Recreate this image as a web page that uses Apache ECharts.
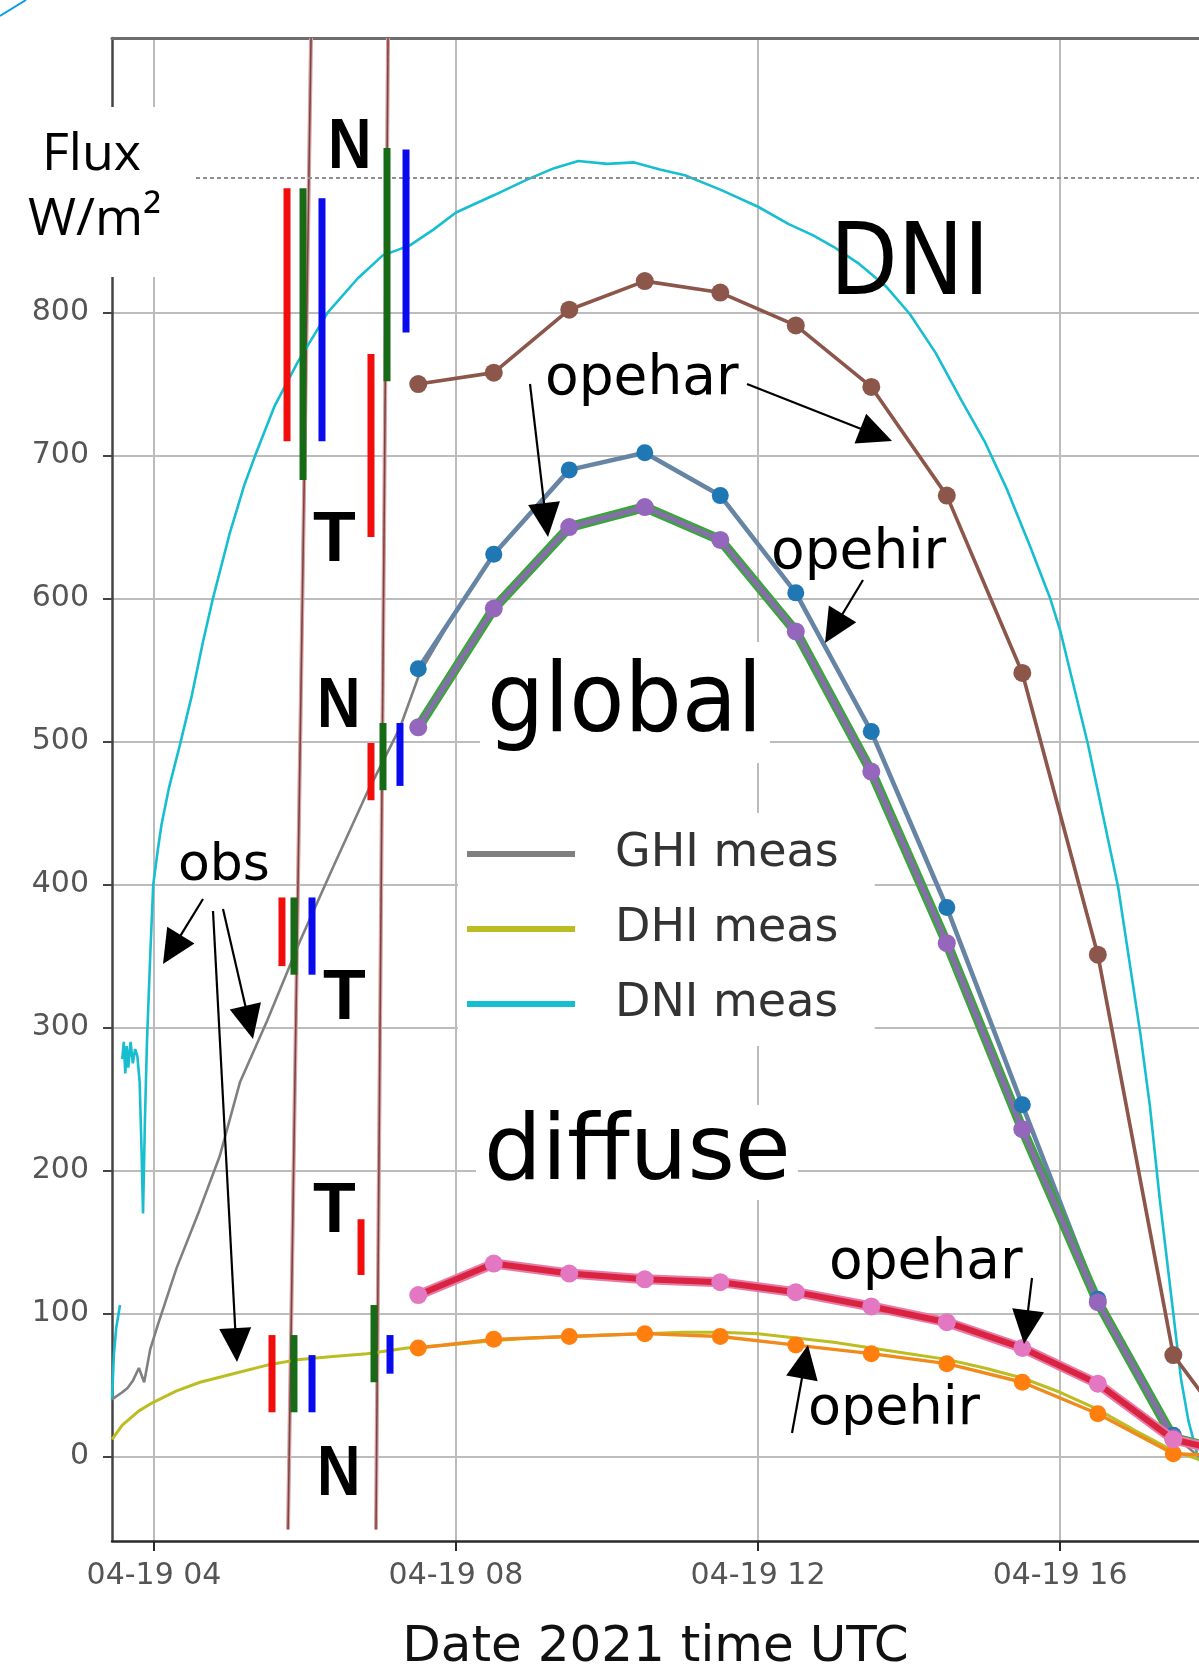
<!DOCTYPE html>
<html>
<head>
<meta charset="utf-8">
<script src="https://cdn.jsdelivr.net/npm/echarts@6/dist/echarts.min.js"></script>
<style>
html,body{margin:0;padding:0;background:#fff;}
#c{width:1199px;height:1678px;}
</style>
</head>
<body>
<div id="c"></div>
<script>
// ---------------- data ----------------
const xTickHours = [4, 8, 12, 16];
const yTickValues = [0, 100, 200, 300, 400, 500, 600, 700, 800];
const dottedRefValue = 894;

const modelHours = [7.5, 8.5, 9.5, 10.5, 11.5, 12.5, 13.5, 14.5, 15.5, 16.5, 17.5, 18.5];
const dniOpehar = [750, 758, 802, 822, 814, 791, 748, 672, 548, 351, 71, 0];
const ghiOpehar = [551, 631, 690, 702, 672, 604, 507, 384, 246, 110, 15, 0];
const ghiOpehir = [510, 593, 650, 664, 641, 577, 479, 359, 229, 108, 13, 0];
const dhiOpehar = [113, 135, 128, 124, 122, 115, 105, 94, 76, 51, 12, 0];
const dhiOpehir = [76, 82, 84, 86, 84, 78, 72, 65, 52, 30, 2, 0];

const dniMeas = [
  [3.444, 40], [3.47, 72], [3.50, 90], [3.55, 106], [3.56, null], [3.58, 278], [3.60, 290], [3.62, 268],
  [3.64, 287], [3.66, 272], [3.69, 290], [3.72, 275], [3.75, 285], [3.78, 280], [3.81, 262], [3.835, 215],
  [3.855, 170], [3.88, 235], [3.907, 290], [3.95, 350], [3.99, 400], [4.05, 424], [4.1, 442], [4.2, 468],
  [4.34, 497], [4.5, 532], [4.65, 570], [4.78, 600], [5.0, 645], [5.2, 680], [5.34, 700], [5.6, 735],
  [5.9, 765], [6.3, 800], [6.7, 824], [7.03, 840], [7.39, 847], [7.7, 858], [8.0, 870], [8.5, 882],
  [8.94, 893], [9.3, 901], [9.62, 906], [10.0, 904], [10.36, 905], [10.7, 900], [11.03, 896], [11.5, 886],
  [12.0, 874], [12.4, 862], [12.73, 854], [13.0, 846], [13.34, 834], [13.7, 818], [14.01, 799], [14.35, 772],
  [14.69, 739], [15.0, 710], [15.3, 676], [15.6, 637], [15.87, 600], [16.0, 578], [16.37, 498], [16.77, 398],
  [17.06, 297], [17.19, 245], [17.32, 180], [17.5, 100], [17.6, 55], [17.7, 25], [17.84, -3]
];
const ghiMeas = [
  [3.444, 40], [3.58, 45], [3.65, 48], [3.72, 53], [3.80, 62], [3.87, 52], [3.95, 75], [4.05, 92],
  [4.3, 132], [4.6, 172], [4.87, 210], [5.14, 262], [5.5, 305], [5.93, 360], [6.37, 412], [6.82, 464],
  [7.26, 510], [7.52, 548], [8.0, 591], [8.5, 631], [9.0, 661], [9.5, 690], [10.0, 696], [10.5, 702],
  [11.0, 687], [11.5, 672], [12.0, 638], [12.5, 604], [13.0, 555], [13.5, 507], [14.0, 445], [14.5, 384],
  [15.0, 315], [15.5, 246], [16.0, 178], [16.5, 110], [17.0, 62], [17.5, 15], [17.84, 0]
];
const dhiMeas = [
  [3.444, 12], [3.58, 22], [3.8, 32], [3.99, 38], [4.3, 46], [4.61, 52], [5.05, 58], [5.5, 64],
  [5.93, 68], [6.37, 70], [6.82, 72], [7.35, 76], [7.9, 78], [8.5, 81], [9.0, 83], [9.5, 84],
  [10.0, 85], [10.5, 86], [11.0, 87], [11.5, 87], [12.0, 86], [12.5, 83], [13.0, 80], [13.5, 76],
  [14.0, 72], [14.5, 68], [15.0, 62], [15.5, 55], [16.0, 45], [16.5, 33], [17.0, 18], [17.5, 4], [17.84, -2]
];

// time-marker lines: [hour at top, hour at bottom]
const markerLineHours = [[6.08, 5.775], [7.10, 6.94]];
const markerLineValues = [992, -51];

// range bars: [hour, low, high]
const rangeRed = [[5.762, 710, 887], [6.874, 643, 771], [6.874, 459, 499], [5.695, 343, 391], [5.563, 31, 85], [6.742, 127, 166]];
const rangeGreen = [[5.974, 683, 887], [7.086, 752, 915], [7.033, 466, 513], [5.854, 337, 391], [5.854, 31, 85], [6.914, 52, 106]];
const rangeBlue = [[6.225, 710, 880], [7.338, 786, 914], [7.258, 469, 513], [6.093, 337, 391], [6.093, 31, 71], [7.126, 58, 85]];

// ---------------- helpers ----------------
const pairs = (xs, ys) => xs.map((x, i) => [x, ys[i]]);
const pad2 = v => String(v).padStart(2, '0');
const DV = '"DejaVu Sans", sans-serif';

function rangeSeries(name, data, color) {
  return {
    type: 'custom', name, data, z: 20, silent: true,
    encode: { x: 0, y: [1, 2] },
    renderItem(params, api) {
      const a = api.coord([api.value(0), api.value(1)]);
      const b = api.coord([api.value(0), api.value(2)]);
      return { type: 'line', shape: { x1: a[0], y1: a[1], x2: b[0], y2: b[1] },
               style: { stroke: color, lineWidth: 7 } };
    }
  };
}

function arrow(x1, y1, x2, y2) {
  const dx = x2 - x1, dy = y2 - y1, L = Math.hypot(dx, dy), ux = dx / L, uy = dy / L;
  const hl = 34, hw = 16;
  const bx = x2 - ux * hl, by = y2 - uy * hl;
  return [
    { type: 'line', z: 102, shape: { x1, y1, x2: bx + ux * 3, y2: by + uy * 3 }, style: { stroke: '#000', lineWidth: 2.2 } },
    { type: 'polygon', z: 102, shape: { points: [[x2, y2], [bx - uy * hw, by + ux * hw], [bx + uy * hw, by - ux * hw]] }, style: { fill: '#000' } }
  ];
}

function txt(text, x, y, font, scaleX) {
  return { type: 'text', x, y, z: 101, scaleX: scaleX || 1, silent: true,
    style: { text, font, fill: '#000', textAlign: 'left', textVerticalAlign: 'middle', verticalAlign: 'middle' } };
}

const bigN = 'bold 70px "Liberation Sans", Arial, sans-serif';

const graphics = [
  { type: 'line', z: 102, shape: { x1: 0, y1: 16, x2: 26, y2: 0 }, style: { stroke: '#0a9fe6', lineWidth: 2 } },
  { type: 'rect', z: 100, shape: { x: 0, y: 107, width: 195, height: 170 }, style: { fill: '#fff' } },
  { type: 'rect', z: 100, shape: { x: 480, y: 642, width: 290, height: 121 }, style: { fill: '#fff' } },
  { type: 'rect', z: 100, shape: { x: 476, y: 1105, width: 322, height: 95 }, style: { fill: '#fff' } },
  txt('Flux', 42, 155, '52px "Open Sans", sans-serif'),
  txt('W/m²', 28, 220, '52px "Open Sans", sans-serif'),
  txt('N', 328, 149, bigN, 0.86),
  txt('T', 313, 542, bigN),
  txt('N', 317, 708, bigN, 0.86),
  txt('T', 323, 1000, bigN),
  txt('T', 313, 1213, bigN),
  txt('N', 317, 1476, bigN, 0.86),
  txt('DNI', 830, 268, '100px ' + DV, 0.88),
  txt('global', 487, 706, '96px ' + DV, 0.94),
  txt('diffuse', 484, 1155, '91px ' + DV),
  txt('opehar', 545, 380, '55px ' + DV),
  txt('opehir', 771, 554, '55px ' + DV),
  txt('opehar', 829, 1264, '55px ' + DV),
  txt('opehir', 808, 1410, '54px ' + DV),
  txt('obs', 178, 866, '52px ' + DV),
  ...arrow(747, 384, 892, 441),
  ...arrow(530, 384, 548, 537),
  ...arrow(863, 580, 825, 643),
  ...arrow(1032, 1278, 1024, 1344),
  ...arrow(792, 1433, 808, 1345),
  ...arrow(203, 899, 163, 964),
  ...arrow(223, 909, 253, 1039),
  ...arrow(213, 911, 237, 1362)
];

const chart = echarts.init(document.getElementById('c'), null, { renderer: 'canvas' });
const xMin = 3.444, xMax = 17.84;

chart.setOption({
  animation: false,
  backgroundColor: '#fff',
  grid: { left: 112, right: 0, top: 38, bottom: 137, containLabel: false },
  legend: {
    data: ['GHI meas', 'DHI meas', 'DNI meas'],
    orient: 'vertical', left: 458, top: 813,
    backgroundColor: '#fff', padding: [18, 36, 19, 9], itemGap: 29,
    itemWidth: 108, itemHeight: 6, icon: 'rect', selectedMode: false,
    textStyle: { fontSize: 46, fontFamily: 'DejaVu Sans', color: '#333', padding: [0, 0, 0, 35] }
  },
  xAxis: [{
    type: 'value', min: xMin, max: xMax, minInterval: 4, maxInterval: 4,
    name: 'Date 2021 time UTC', nameLocation: 'middle', nameGap: 82,
    nameTextStyle: { fontSize: 50, fontFamily: 'DejaVu Sans', color: '#111' },
    axisLine: { onZero: false, lineStyle: { color: '#2a2a2a', width: 2.5 } },
    axisTick: { show: true, length: 10, customValues: xTickHours, lineStyle: { color: '#2a2a2a', width: 2 } },
    axisLabel: { customValues: xTickHours, fontSize: 30, fontFamily: 'DejaVu Sans', color: '#555', margin: 20,
      formatter: v => '04-19 ' + pad2(Math.round(v)) },
    splitLine: { show: true, lineStyle: { color: '#bcbcbc', width: 2 } }
  }, {
    type: 'value', position: 'top', min: xMin, max: xMax,
    axisLine: { show: true, onZero: false, lineStyle: { color: '#6e6e6e', width: 3 } },
    axisTick: { show: false }, axisLabel: { show: false }, splitLine: { show: false }
  }],
  yAxis: {
    type: 'value', min: -59, max: 992, minInterval: 100, maxInterval: 100,
    axisLine: { show: true, onZero: false, lineStyle: { color: '#444', width: 2.5 } },
    axisTick: { show: true, length: 9, customValues: yTickValues, lineStyle: { color: '#444', width: 2 } },
    axisLabel: { customValues: yTickValues, fontSize: 30, fontFamily: 'DejaVu Sans', color: '#555', margin: 23 },
    splitLine: { show: true, lineStyle: { color: '#bcbcbc', width: 2 } }
  },
  graphic: { elements: graphics },
  series: [
    {
      type: 'custom', name: 'markers', data: markerLineHours, z: 1, silent: true,
      encode: { x: [0, 1] },
      renderItem(params, api) {
        const a = api.coord([api.value(0), markerLineValues[0]]);
        const b = api.coord([api.value(1), markerLineValues[1]]);
        return { type: 'group', children: [
          { type: 'line', shape: { x1: a[0], y1: a[1], x2: b[0], y2: b[1] }, style: { stroke: '#dba3a3', lineWidth: 4 } },
          { type: 'line', shape: { x1: a[0], y1: a[1], x2: b[0], y2: b[1] }, style: { stroke: '#7a4444', lineWidth: 1.6 } }
        ] };
      }
    },
    {
      type: 'line', name: 'dotted', data: [], silent: true,
      markLine: { silent: true, symbol: 'none', label: { show: false },
        lineStyle: { color: '#8f8f8f', width: 2, type: [4, 3] },
        data: [{ yAxis: dottedRefValue }] }
    },
    { type: 'line', name: 'DNI meas', data: dniMeas, showSymbol: false, z: 2, color: '#17becf',
      lineStyle: { color: '#17becf', width: 2.6 }, itemStyle: { color: '#17becf' } },
    { type: 'line', name: 'DNI opehar', data: pairs(modelHours, dniOpehar), z: 3, color: '#8c564b',
      symbol: 'circle', symbolSize: 18, lineStyle: { color: '#8c564b', width: 3.6 }, itemStyle: { color: '#8c564b' } },
    { type: 'line', name: 'GHI meas', data: ghiMeas, showSymbol: false, z: 3, color: '#7f7f7f',
      lineStyle: { color: '#808080', width: 2.6 }, itemStyle: { color: '#7f7f7f' } },
    { type: 'line', name: 'GHI opehar', data: pairs(modelHours, ghiOpehar), z: 4, color: '#1f77b4',
      symbol: 'circle', symbolSize: 17, lineStyle: { color: '#6684a4', width: 4.6 }, itemStyle: { color: '#1f77b4' } },
    { type: 'line', name: 'GHI opehir outline', data: pairs(modelHours, ghiOpehir), z: 4, showSymbol: false, color: '#2ca02c',
      lineStyle: { color: '#3aa63a', width: 10 } },
    { type: 'line', name: 'GHI opehir', data: pairs(modelHours, ghiOpehir), z: 4, color: '#9467bd',
      symbol: 'circle', symbolSize: 18, lineStyle: { color: '#8270a6', width: 5.5 }, itemStyle: { color: '#9467bd' } },
    { type: 'line', name: 'DHI meas', data: dhiMeas, showSymbol: false, z: 5, color: '#bcbd22',
      lineStyle: { color: '#bcbd22', width: 3 }, itemStyle: { color: '#bcbd22' } },
    { type: 'line', name: 'DHI opehir', data: pairs(modelHours, dhiOpehir), z: 5, color: '#ff7f0e',
      symbol: 'circle', symbolSize: 17, lineStyle: { color: '#f08a1c', width: 3.4 }, itemStyle: { color: '#ff7f0e' } },
    { type: 'line', name: 'DHI opehar outline', data: pairs(modelHours, dhiOpehar), z: 6, showSymbol: false, color: '#e377c2',
      lineStyle: { color: '#e87aa8', width: 10 } },
    { type: 'line', name: 'DHI opehar', data: pairs(modelHours, dhiOpehar), z: 6, color: '#e377c2',
      symbol: 'circle', symbolSize: 18, lineStyle: { color: '#d92340', width: 6 }, itemStyle: { color: '#e377c2' } },
    rangeSeries('red', rangeRed, '#f20d0d'),
    rangeSeries('green', rangeGreen, '#176b17'),
    rangeSeries('blue', rangeBlue, '#0a0aee')
  ]
});
</script>
</body>
</html>
